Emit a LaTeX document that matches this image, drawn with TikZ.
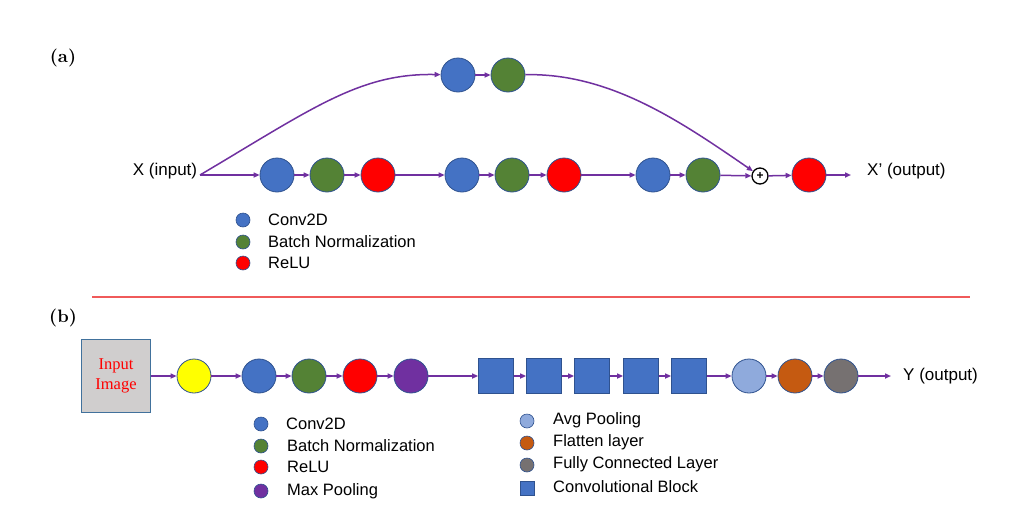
\documentclass[tikz,border=0pt]{standalone}
\usepackage{fontspec}
\usetikzlibrary{arrows.meta}
\newfontfamily\arialf{Liberation Sans}
\newfontfamily\timesf{Liberation Serif}
\newfontfamily\lmbf{lmroman10-bold}[Extension=.otf]
\definecolor{cblue}{HTML}{4472C4}
\definecolor{cgreen}{HTML}{548235}
\definecolor{cred}{HTML}{FF0000}
\definecolor{cpurple}{HTML}{7030A0}
\definecolor{cyellow}{HTML}{FFFF00}
\definecolor{clblue}{HTML}{8FAADC}
\definecolor{corange}{HTML}{C55A11}
\definecolor{cgray}{HTML}{767171}
\definecolor{cedge}{HTML}{2F528F}
\definecolor{cbox}{HTML}{D0CECE}
\definecolor{cboxedge}{HTML}{41719C}
\definecolor{seplinecol}{HTML}{F05A5A}
\tikzset{
  lay/.style={circle, minimum size=34pt, inner sep=0pt, draw=cedge, line width=0.8pt, fill=#1},
  blk/.style={rectangle, minimum size=35pt, inner sep=0pt, draw=cedge, line width=0.8pt, fill=cblue},
  dot/.style={circle, minimum size=14pt, inner sep=0pt, draw=cedge, line width=0.6pt, fill=#1},
  sqdot/.style={rectangle, minimum size=14pt, inner sep=0pt, draw=cedge, line width=0.6pt, fill=cblue},
  conn/.style={draw=cpurple, line width=1.5pt, -{Triangle[length=6pt,width=5pt]}},
  lbl/.style={font=\arialf\fontsize{17}{20}\selectfont, inner sep=0pt},
  leg/.style={font=\arialf\fontsize{16.5}{20}\selectfont, anchor=west, inner sep=0pt},
  tag/.style={font=\lmbf\fontsize{18}{20}\selectfont, inner sep=0pt},
  sepline/.style={draw=seplinecol, line width=1.2pt},
}
\begin{document}
\begin{tikzpicture}[x=1pt,y=-1pt]
\useasboundingbox (0,0) rectangle (1019,509);
\fill[white] (0,0) rectangle (1019,509);
% ---------- (a)
\node[tag] (ta) at (63,58) {(a)};
\node[lbl] (xin) at (165,171) {X (input)};
\coordinate (xs) at (200,175);
\node[lay=cblue] (tb) at (458,75) {};
\node[lay=cgreen] (tg) at (508,75) {};
\node[lay=cblue] (b1) at (277,175) {};
\node[lay=cgreen] (g1) at (327,175) {};
\node[lay=cred] (r1) at (378,175) {};
\node[lay=cblue] (b2) at (462,175) {};
\node[lay=cgreen] (g2) at (512,175) {};
\node[lay=cred] (r2) at (564,175) {};
\node[lay=cblue] (b3) at (653,175) {};
\node[lay=cgreen] (g3) at (703,175) {};
\node[circle, draw=black, fill=white, line width=1.3pt, minimum size=16pt, inner sep=0pt, font=\arialf\bfseries\fontsize{12}{12}\selectfont] (plus) at (760,176) {+};
\node[lay=cred] (r3) at (809,175) {};
\coordinate (xe) at (851,175);
\node[lbl, anchor=west] (xout) at (867,171) {X’ (output)};
\draw[conn] (xs) -- (b1);
\draw[conn] (b1) -- (g1);
\draw[conn] (g1) -- (r1);
\draw[conn] (r1) -- (b2);
\draw[conn] (b2) -- (g2);
\draw[conn] (g2) -- (r2);
\draw[conn] (r2) -- (b3);
\draw[conn] (b3) -- (g3);
\draw[conn] (g3) -- (plus);
\draw[conn] (plus) -- (r3);
\draw[conn] (r3) -- (xe);
\draw[conn] (xs) .. controls (313,108) and (360,73) .. (tb);
\draw[conn] (tb) -- (tg);
\draw[conn] (tg) .. controls (610,73) and (680,121) .. (plus);
% legend (a)
\node[dot=cblue] (la1) at (243,220) {};
\node[dot=cgreen] (la2) at (243,242) {};
\node[dot=cred] (la3) at (243,263) {};
\node[leg] (lat1) at (268,220) {Conv2D};
\node[leg] (lat2) at (268,242) {Batch Normalization};
\node[leg] (lat3) at (268,263) {ReLU};
% separator
\coordinate (sepa) at (92,297);
\coordinate (sepb) at (970,297);
\draw[sepline] (sepa) -- (sepb);
% ---------- (b)
\node[tag] (tb2) at (63,318) {(b)};
\node[rectangle, minimum width=69pt, minimum height=73pt, fill=cbox, draw=cboxedge, line width=1pt, align=center, font=\timesf\fontsize{16.5}{20}\selectfont, text=cred] (img) at (116,376) {Input\\Image};
\node[lay=cyellow] (y1) at (194,376) {};
\node[lay=cblue] (bb) at (259,376) {};
\node[lay=cgreen] (bg) at (309,376) {};
\node[lay=cred] (br) at (360,376) {};
\node[lay=cpurple] (bp) at (411,376) {};
\node[blk] (s1) at (496,376) {};
\node[blk] (s2) at (544,376) {};
\node[blk] (s3) at (592,376) {};
\node[blk] (s4) at (641,376) {};
\node[blk] (s5) at (689,376) {};
\node[lay=clblue] (ap) at (749,376) {};
\node[lay=corange] (fl) at (795,376) {};
\node[lay=cgray] (fc) at (841,376) {};
\coordinate (ye) at (891,376);
\node[lbl, anchor=west] (yout) at (903,376) {Y (output)};
\draw[conn] (img) -- (y1);
\draw[conn] (y1) -- (bb);
\draw[conn] (bb) -- (bg);
\draw[conn] (bg) -- (br);
\draw[conn] (br) -- (bp);
\draw[conn] (bp) -- (s1);
\draw[conn] (s1) -- (s2);
\draw[conn] (s2) -- (s3);
\draw[conn] (s3) -- (s4);
\draw[conn] (s4) -- (s5);
\draw[conn] (s5) -- (ap);
\draw[conn] (ap) -- (fl);
\draw[conn] (fl) -- (fc);
\draw[conn] (fc) -- (ye);
% legend (b) left
\node[dot=cblue] (lb1) at (261,424) {};
\node[dot=cgreen] (lb2) at (261,446) {};
\node[dot=cred] (lb3) at (261,467) {};
\node[dot=cpurple] (lb4) at (261,491) {};
\node[leg] (lbt1) at (286,424) {Conv2D};
\node[leg] (lbt2) at (287,446) {Batch Normalization};
\node[leg] (lbt3) at (287,467) {ReLU};
\node[leg] (lbt4) at (287,491) {Max Pooling};
% legend (b) right
\node[dot=clblue] (lc1) at (527,421) {};
\node[dot=corange] (lc2) at (527,443) {};
\node[dot=cgray] (lc3) at (527,465) {};
\node[sqdot] (lc4) at (527,488) {};
\node[leg] (lct1) at (553,420) {Avg Pooling};
\node[leg] (lct2) at (553,442) {Flatten layer};
\node[leg] (lct3) at (553,464) {Fully Connected Layer};
\node[leg] (lct4) at (553,487) {Convolutional Block};
\end{tikzpicture}
\end{document}
